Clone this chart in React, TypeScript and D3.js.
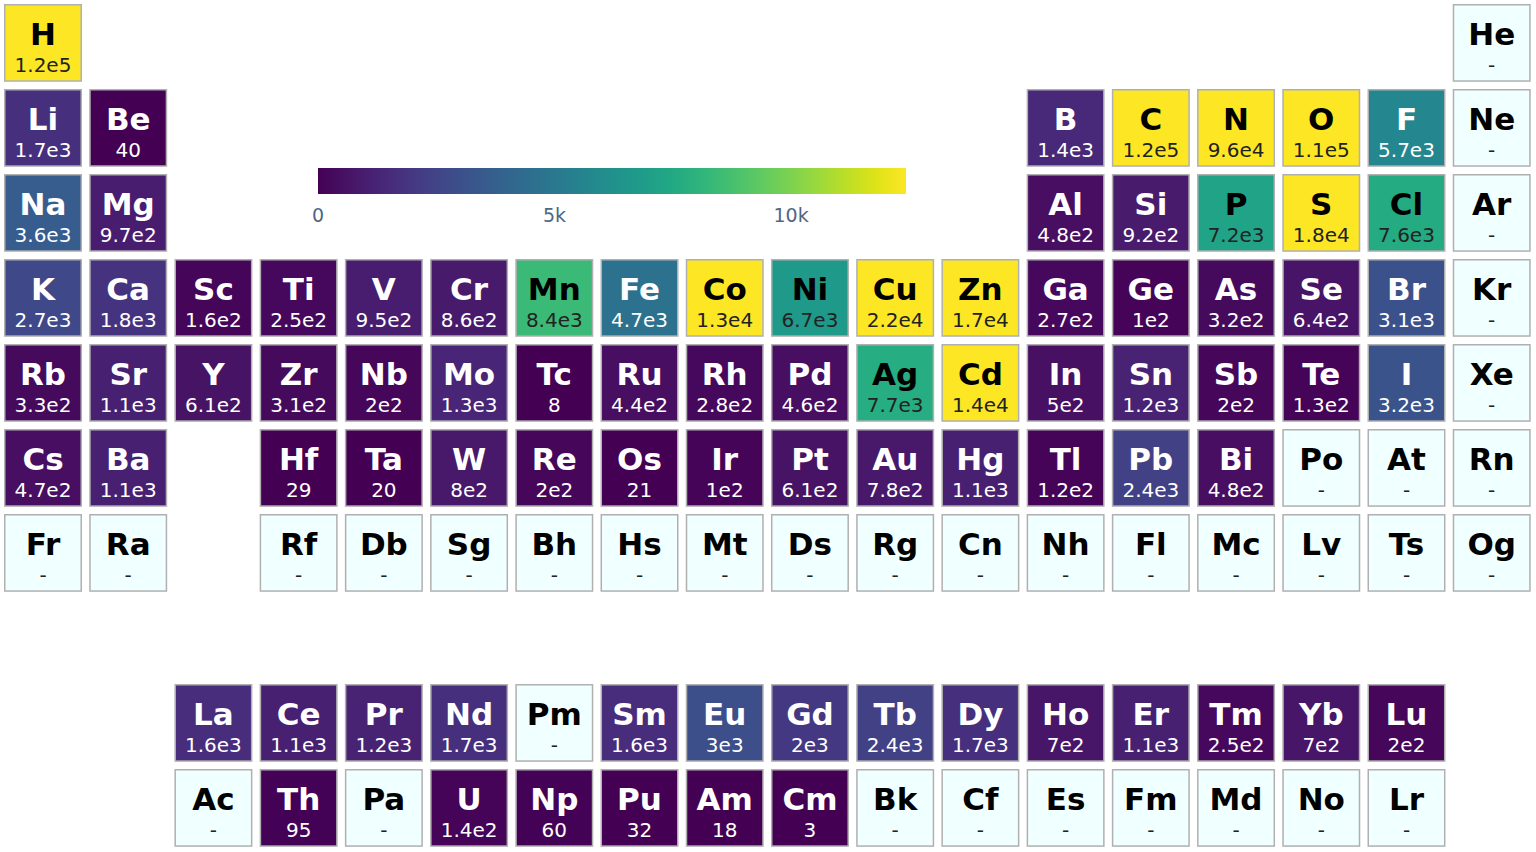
import React from 'react'
import * as d3 from 'd3'

// element symbols per table row (null = empty slot)
const period1 = ['H', null, null, null, null, null, null, null, null, null, null, null, null, null, null, null, null, 'He']
const period2 = ['Li', 'Be', null, null, null, null, null, null, null, null, null, null, 'B', 'C', 'N', 'O', 'F', 'Ne']
const period3 = ['Na', 'Mg', null, null, null, null, null, null, null, null, null, null, 'Al', 'Si', 'P', 'S', 'Cl', 'Ar']
const period4 = ['K', 'Ca', 'Sc', 'Ti', 'V', 'Cr', 'Mn', 'Fe', 'Co', 'Ni', 'Cu', 'Zn', 'Ga', 'Ge', 'As', 'Se', 'Br', 'Kr']
const period5 = ['Rb', 'Sr', 'Y', 'Zr', 'Nb', 'Mo', 'Tc', 'Ru', 'Rh', 'Pd', 'Ag', 'Cd', 'In', 'Sn', 'Sb', 'Te', 'I', 'Xe']
const period6 = ['Cs', 'Ba', null, 'Hf', 'Ta', 'W', 'Re', 'Os', 'Ir', 'Pt', 'Au', 'Hg', 'Tl', 'Pb', 'Bi', 'Po', 'At', 'Rn']
const period7 = ['Fr', 'Ra', null, 'Rf', 'Db', 'Sg', 'Bh', 'Hs', 'Mt', 'Ds', 'Rg', 'Cn', 'Nh', 'Fl', 'Mc', 'Lv', 'Ts', 'Og']
const lanthanides = [null, null, 'La', 'Ce', 'Pr', 'Nd', 'Pm', 'Sm', 'Eu', 'Gd', 'Tb', 'Dy', 'Ho', 'Er', 'Tm', 'Yb', 'Lu', null]
const actinides = [null, null, 'Ac', 'Th', 'Pa', 'U', 'Np', 'Pu', 'Am', 'Cm', 'Bk', 'Cf', 'Es', 'Fm', 'Md', 'No', 'Lr', null]

// values (null = no data, shown as "-")
const values1 = [1.2e5, null]
const values2 = [1.7e3, 40, 1.4e3, 1.2e5, 9.6e4, 1.1e5, 5.7e3, null]
const values3 = [3.6e3, 9.7e2, 4.8e2, 9.2e2, 7.2e3, 1.8e4, 7.6e3, null]
const values4 = [2.7e3, 1.8e3, 1.6e2, 2.5e2, 9.5e2, 8.6e2, 8.4e3, 4.7e3, 1.3e4, 6.7e3, 2.2e4, 1.7e4, 2.7e2, 1e2, 3.2e2, 6.4e2, 3.1e3, null]
const values5 = [3.3e2, 1.1e3, 6.1e2, 3.1e2, 2e2, 1.3e3, 8, 4.4e2, 2.8e2, 4.6e2, 7.7e3, 1.4e4, 5e2, 1.2e3, 2e2, 1.3e2, 3.2e3, null]
const values6 = [4.7e2, 1.1e3, 29, 20, 8e2, 2e2, 21, 1e2, 6.1e2, 7.8e2, 1.1e3, 1.2e2, 2.4e3, 4.8e2, null, null, null]
const values7 = [null, null, null, null, null, null, null, null, null, null, null, null, null, null, null, null, null]
const valuesLa = [1.6e3, 1.1e3, 1.2e3, 1.7e3, null, 1.6e3, 3e3, 2e3, 2.4e3, 1.7e3, 7e2, 1.1e3, 2.5e2, 7e2, 2e2]
const valuesAc = [null, 95, null, 1.4e2, 60, 32, 18, 3, null, null, null, null, null, null, null]

const colorbarTicks = [0, 5000, 10000]
const colorMax = 12430

const tableRows = [
  { row: 0, symbols: period1, values: values1 },
  { row: 1, symbols: period2, values: values2 },
  { row: 2, symbols: period3, values: values3 },
  { row: 3, symbols: period4, values: values4 },
  { row: 4, symbols: period5, values: values5 },
  { row: 5, symbols: period6, values: values6 },
  { row: 6, symbols: period7, values: values7 },
  { row: 8, symbols: lanthanides, values: valuesLa },
  { row: 9, symbols: actinides, values: valuesAc },
]

const fmt = (v) => {
  if (v == null) return '-'
  if (v < 100) return String(Math.round(v))
  const e = Math.floor(Math.log10(v))
  const m = Math.round((v / Math.pow(10, e)) * 10) / 10
  return `${m}e${e}`
}

const font = 'Verdana, "DejaVu Sans", sans-serif'

export default function App() {
  const width = 1536
  const height = 852

  // table grid
  const x = d3.scaleBand().domain(d3.range(18)).range([4, 1530.7]).paddingInner(0.085)
  const y = d3.scaleBand().domain(d3.range(10)).range([4, 846.8]).paddingInner(0.085)
  const bw = x.bandwidth()
  const bh = y.bandwidth()

  const color = d3.scaleSequential(d3.interpolateViridis).domain([0, colorMax]).clamp(true)

  const cells = []
  tableRows.forEach(({ row, symbols, values }) => {
    let k = 0
    symbols.forEach((sym, col) => {
      if (!sym) return
      cells.push({ sym, col, row, value: values[k] })
      k++
    })
  })

  // colorbar
  const cb = d3.scaleLinear().domain([0, colorMax]).range([318, 906])
  const stops = d3.range(0, 1.0001, 0.05)

  return (
    <svg width={width} height={height} style={{ position: 'absolute', left: 0, top: 0, background: '#fff' }}>
      <defs>
        <linearGradient id="viridis" x1="0" x2="1" y1="0" y2="0">
          {stops.map((t) => (
            <stop key={t} offset={t} stopColor={d3.interpolateViridis(t)} />
          ))}
        </linearGradient>
      </defs>
      <g>
        {cells.map((c) => {
          const x0 = x(c.col)
          const y0 = y(c.row)
          const has = c.value != null
          const fill = has ? color(c.value) : '#f0ffff'
          const dark = !has || c.value / colorMax > 0.5
          return (
            <g key={c.sym} transform={`translate(${x0},${y0})`}>
              <rect x={0.75} y={0.75} width={bw - 1.5} height={bh - 1.5} fill={fill} stroke="#b0b0b0" strokeWidth={1.5} />
              <text x={bw / 2} y={41} textAnchor="middle" fontFamily={font} fontWeight="bold" fontSize={31} fill={dark ? '#000' : '#fff'}>
                {c.sym}
              </text>
              <text x={bw / 2} y={68} textAnchor="middle" fontFamily={font} fontSize={20} fill={dark ? '#222' : '#fff'}>
                {fmt(c.value)}
              </text>
            </g>
          )
        })}
      </g>
      <g>
        <rect x={cb(0)} y={168} width={cb(colorMax) - cb(0)} height={26} fill="url(#viridis)" />
        {colorbarTicks.map((t) => (
          <text key={t} x={cb(t)} y={222} textAnchor="middle" fontFamily={font} fontSize={19} fill="#506784">
            {t === 0 ? '0' : `${t / 1000}k`}
          </text>
        ))}
      </g>
    </svg>
  )
}
